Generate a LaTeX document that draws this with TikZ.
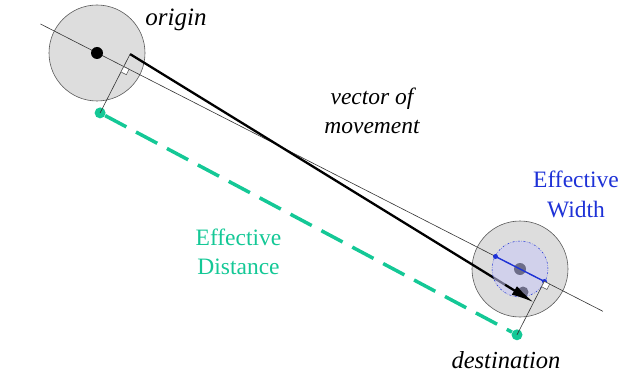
\documentclass[tikz,border=0pt]{standalone}
\usepackage{fontspec}
\setmainfont{Liberation Serif}
\usetikzlibrary{arrows.meta}
\definecolor{effgreen}{RGB}{20,200,150}
\definecolor{effblue}{RGB}{30,50,215}
\definecolor{circgray}{RGB}{221,221,221}
\definecolor{lav}{RGB}{200,200,248}
\begin{document}
\begin{tikzpicture}[x=1pt,y=-1pt,
  target/.style={circle, draw=black!65, fill=circgray, line width=0.6pt, minimum size=96pt, inner sep=0pt},
  thinline/.style={draw=black!80, line width=0.6pt},
  vecline/.style={draw=black, line width=2.3pt},
  vechead/.style={draw=black, line width=2.3pt, -{Latex[length=23pt,width=10pt]}},
  bdot/.style={circle, fill=black, inner sep=0pt, minimum size=12pt},
  gdot/.style={circle, fill=effgreen, inner sep=0pt, minimum size=11pt},
  wdot/.style={circle, fill=effblue, inner sep=0pt, minimum size=5pt},
  widthcirc/.style={circle, minimum size=56pt, inner sep=0pt, fill=lav, fill opacity=0.55, draw=effblue, line width=0.5pt, dash pattern=on 2pt off 1.5pt on 0.5pt off 1.5pt},
  rmark/.style={draw=black!70, fill=white, line width=0.5pt},
  lbl/.style={inner sep=0pt, anchor=base, align=center, font=\fontsize{23.5}{29}\selectfont}
]
\useasboundingbox (0,0) rectangle (634,374);

% key points
\coordinate (O) at (97,53);
\coordinate (D) at (520,269);
\coordinate (lstart) at (40.5,24);
\coordinate (lend) at (602.9,311.3);
\coordinate (vstart) at (130.1,54.1);
\coordinate (vtip) at (534,302.5);
\coordinate (vhead) at (505,284.7);
\coordinate (f1) at (123.7,66.6);
\coordinate (f2) at (544.3,281.4);
\coordinate (w1) at (495.5,256.5);
\coordinate (w2) at (544.5,281.5);

% target circles
\node[target] (ocirc) at (O) {};
\node[target] (dcirc) at (D) {};

% line through origin and destination
\draw[thinline] (lstart) -- (lend);

% vector of movement (shaft)
\draw[vecline] (vstart) -- (vhead);

% dots
\node[bdot] (odot) at (O) {};
\node[bdot] (ddot) at (D) {};
\node[bdot, minimum size=11pt] (vend) at (523,292) {};

% effective width circle
\node[widthcirc] (wcirc) at (D) {};
\draw[effblue, line width=1.4pt] (w1) -- (w2);
\node[wdot] (wd1) at (w1) {};
\node[wdot] (wd2) at (w2) {};

% arrow head of the vector on top
\draw[vechead] (vhead) -- (vtip);

% green points
\node[gdot] (g1) at (100.1,112.9) {};
\node[gdot] (g2) at (517,334.8) {};

% perpendiculars
\draw[thinline] (g1.center) -- (vstart);
\draw[thinline] (g2.center) -- (f2);
\draw[rmark] (f1) -- +(5.34,2.73) -- +(2.61,8.07) -- +(-2.73,5.34) -- cycle;
\draw[rmark] (f2) -- +(5.34,2.73) -- +(2.61,8.07) -- +(-2.73,5.34) -- cycle;

% effective distance
\draw[effgreen, line width=3.5pt, dash pattern=on 24pt off 11pt] (g1) -- (g2);

% labels
\node[lbl, font=\fontsize{25}{29}\selectfont\itshape] (torigin) at (176,25.5) {origin};
\node[lbl, font=\fontsize{23.5}{29}\selectfont\itshape] (tvec) at (372,134) {vector of\\movement};
\node[lbl, text=effgreen] (tdist) at (238.5,274) {Effective\\Distance};
\node[lbl, text=effblue] (twidth) at (576,217) {Effective\\Width};
\node[lbl, font=\fontsize{24.5}{29}\selectfont\itshape] (tdest) at (506,368) {destination};
\end{tikzpicture}
\end{document}
